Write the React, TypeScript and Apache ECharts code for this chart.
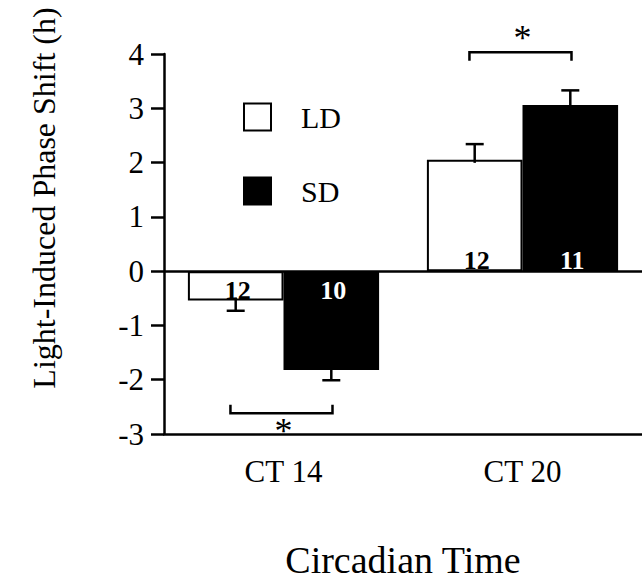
import React, { useEffect, useRef } from 'react';
import * as echarts from 'echarts';

const categories = ['CT 14', 'CT 20'];
const seriesNames = ['LD', 'SD'];
const ldMeans = [-0.54, 2.05];
const ldErrors = [0.19, 0.29];
const sdMeans = [-1.82, 3.06];
const sdErrors = [0.19, 0.27];
const ldCounts = [12, 12];
const sdCounts = [10, 11];
const yMin = -3;
const yMax = 4;
const yInterval = 1;
const sigBracketLevels = [-2.62, 4.03];
const sigStarLevels = [-2.95, 4.3];

const FONT = '"Liberation Serif", "Times New Roman", serif';

export default function App() {
  const ref = useRef<HTMLDivElement>(null);
  useEffect(() => {
    if (!ref.current) return;
    const chart = echarts.init(ref.current, undefined, { renderer: 'svg' });

    const errData: number[][] = [];
    const countData: number[][] = [];
    categories.forEach((_, i) => {
      errData.push([i, ldMeans[i], ldErrors[i], 0]);
      errData.push([i, sdMeans[i], sdErrors[i], 1]);
      countData.push([i, ldMeans[i], ldCounts[i], 0]);
      countData.push([i, sdMeans[i], sdCounts[i], 1]);
    });
    const bracketData = categories.map((_, i) => [i, sigBracketLevels[i], sigStarLevels[i]]);

    const option: any = {
      animation: false,
      grid: { left: 164, top: 54, width: 480, height: 384, containLabel: false },
      legend: {
        data: seriesNames,
        orient: 'vertical',
        left: 243,
        top: 102,
        padding: 0,
        itemWidth: 27,
        itemHeight: 27,
        itemGap: 44,
        icon: 'rect',
        selectedMode: false,
        textStyle: { fontFamily: FONT, fontSize: 30, lineHeight: 27, color: '#000', padding: [3, 0, 0, 25] },
      },
      xAxis: {
        type: 'category',
        data: categories,
        axisLine: { onZero: false, lineStyle: { color: '#000', width: 2.5 } },
        axisTick: { show: false },
        axisLabel: { fontFamily: FONT, fontSize: 31, color: '#000', margin: 22 },
        name: 'Circadian Time',
        nameLocation: 'middle',
        nameGap: 107,
        nameTextStyle: { fontFamily: FONT, fontSize: 38, color: '#000' },
      },
      yAxis: {
        type: 'value',
        min: yMin,
        max: yMax,
        interval: yInterval,
        axisLine: { show: true, lineStyle: { color: '#000', width: 2.5 } },
        axisTick: { show: true, length: 13, lineStyle: { color: '#000', width: 2.5 } },
        axisLabel: { fontFamily: FONT, fontSize: 31, color: '#000', margin: 20 },
        splitLine: { show: false },
      },
      graphic: [
        {
          type: 'text',
          x: 44,
          y: 198,
          rotation: Math.PI / 2,
          style: {
            text: 'Light-Induced Phase Shift (h)',
            fontFamily: FONT,
            fontSize: 32,
            fill: '#000',
            align: 'center',
            verticalAlign: 'middle',
          },
        },
      ],
      series: [
        {
          name: 'LD',
          type: 'bar',
          data: ldMeans,
          barWidth: '40%',
          barGap: '0%',
          itemStyle: { color: '#fff', borderColor: '#000', borderWidth: 2 },
          markLine: {
            silent: true,
            symbol: 'none',
            label: { show: false },
            lineStyle: { color: '#000', width: 2.5, type: 'solid' },
            data: [{ yAxis: 0 }],
          },
        },
        {
          name: 'SD',
          type: 'bar',
          data: sdMeans,
          barWidth: '40%',
          barGap: '0%',
          itemStyle: { color: '#000', borderColor: '#000', borderWidth: 2 },
        },
        {
          type: 'custom',
          clip: false,
          data: errData,
          encode: { x: 0, y: 1 },
          z: 5,
          renderItem: (params: any, api: any) => {
            const cat = api.value(0);
            const mean = api.value(1);
            const err = api.value(2);
            const g = api.value(3);
            const band = api.size([1, 0])[0];
            const dx = (g === 0 ? -0.2 : 0.2) * band;
            const sign = mean < 0 ? -1 : 1;
            const p0 = api.coord([cat, mean]);
            const p1 = api.coord([cat, mean + sign * err]);
            const x = p0[0] + dx;
            return {
              type: 'group',
              children: [
                { type: 'line', shape: { x1: x, y1: p0[1] + sign * 3, x2: x, y2: p1[1] }, style: { stroke: '#000', lineWidth: 2.5 } },
                { type: 'line', shape: { x1: x - 9, y1: p1[1], x2: x + 9, y2: p1[1] }, style: { stroke: '#000', lineWidth: 2.5 } },
              ],
            };
          },
        },
        {
          type: 'custom',
          clip: false,
          data: countData,
          encode: { x: 0, y: 1 },
          z: 6,
          renderItem: (params: any, api: any) => {
            const cat = api.value(0);
            const mean = api.value(1);
            const n = api.value(2);
            const g = api.value(3);
            const band = api.size([1, 0])[0];
            const dx = (g === 0 ? -0.2 : 0.2) * band;
            const p = api.coord([cat, 0]);
            return {
              type: 'text',
              x: p[0] + dx + 2,
              y: p[1] + (mean < 0 ? 19 : -11),
              style: {
                text: String(n),
                fontFamily: FONT,
                fontWeight: 'bold',
                fontSize: 26,
                fill: g === 0 ? '#000' : '#fff',
                align: 'center',
                verticalAlign: 'middle',
              },
            };
          },
        },
        {
          type: 'custom',
          clip: false,
          data: bracketData,
          encode: { x: 0, y: 1 },
          z: 6,
          renderItem: (params: any, api: any) => {
            const cat = api.value(0);
            const level = api.value(1);
            const star = api.value(2);
            const band = api.size([1, 0])[0];
            const p = api.coord([cat, level]);
            const ps = api.coord([cat, star]);
            const sign = level < 0 ? -1 : 1;
            const x1 = p[0] - 0.222 * band;
            const x2 = p[0] + 0.205 * band;
            const ty = p[1] + sign * 8.5;
            return {
              type: 'group',
              children: [
                { type: 'polyline', shape: { points: [[x1, ty], [x1, p[1]], [x2, p[1]], [x2, ty]] }, style: { stroke: '#000', lineWidth: 2.5, fill: 'none' } },
                {
                  type: 'text',
                  x: ps[0],
                  y: ps[1],
                  style: { text: '*', fontFamily: FONT, fontSize: 36, fill: '#000', align: 'center', verticalAlign: 'middle' },
                },
              ],
            };
          },
        },
      ],
    };
    chart.setOption(option);
    return () => chart.dispose();
  }, []);
  return <div ref={ref} style={{ position: 'fixed', left: 0, top: 0, width: 642, height: 584, background: '#fff' }} />;
}
